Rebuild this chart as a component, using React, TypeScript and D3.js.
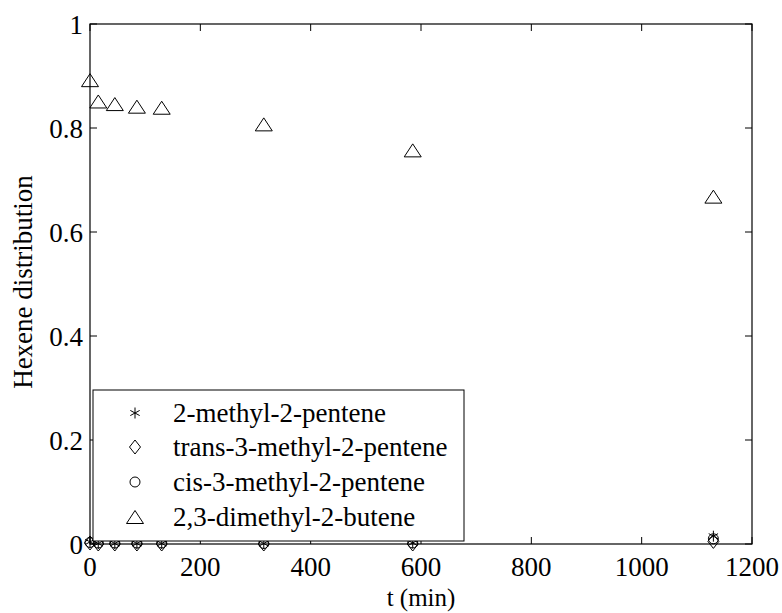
import React from "react";
import * as d3 from "d3";

const times = [0, 15, 45, 85, 130, 315, 585, 1130];
const methylPentene = [0.004, 0.001, 0.001, 0.001, 0.001, 0.001, 0.002, 0.015];
const trans3Methyl = [0.002, 0.0, 0.0, 0.0, 0.0, 0.0, 0.0, 0.005];
const cis3Methyl = [0.003, 0.002, 0.002, 0.002, 0.002, 0.001, 0.002, 0.01];
const dimethylButene = [0.892, 0.851, 0.846, 0.841, 0.839, 0.807, 0.757, 0.668];
const xTicks = [0, 200, 400, 600, 800, 1000, 1200];
const yTicks = [0, 0.2, 0.4, 0.6, 0.8, 1];
const yTickLabels = ["0", "0.2", "0.4", "0.6", "0.8", "1"];
const legendLabels = [
  "2-methyl-2-pentene",
  "trans-3-methyl-2-pentene",
  "cis-3-methyl-2-pentene",
  "2,3-dimethyl-2-butene",
];

const W = 782, H = 613;
const L = 90, R = 752, T = 24, B = 544;
const FONT = "Liberation Serif, Times New Roman, DejaVu Serif, serif";

function Marker({ type, x, y, s = 1 }: { type: string; x: number; y: number; s?: number }) {
  const st = { fill: "none", stroke: "#000", strokeWidth: 1 };
  if (type === "star") {
    const r = 5.5 * s;
    const d = r * 0.85;
    return (
      <g {...st}>
        <line x1={x} y1={y - r} x2={x} y2={y + r} />
        <line x1={x - d} y1={y - d * 0.55} x2={x + d} y2={y + d * 0.55} />
        <line x1={x - d} y1={y + d * 0.55} x2={x + d} y2={y - d * 0.55} />
      </g>
    );
  }
  if (type === "diamond") {
    const h = 7 * s, w = 5.5 * s;
    return <path {...st} d={`M${x},${y - h}L${x + w},${y}L${x},${y + h}L${x - w},${y}Z`} />;
  }
  if (type === "circle") {
    return <circle {...st} cx={x} cy={y} r={5 * s} />;
  }
  const w = 8.5 * s, h = 6.5 * s;
  return <path {...st} d={`M${x},${y - h}L${x + w},${y + h}L${x - w},${y + h}Z`} />;
}

export default function App() {
  const x = d3.scaleLinear().domain([0, 1200]).range([L, R]);
  const y = d3.scaleLinear().domain([0, 1]).range([B, T]);
  const series = [
    { type: "star", vals: methylPentene },
    { type: "diamond", vals: trans3Methyl },
    { type: "circle", vals: cis3Methyl },
    { type: "triangle", vals: dimethylButene },
  ];
  const lgX = 93, lgY = 390, lgW = 371, lgH = 151;
  const rowY = [413, 447, 482, 517];
  return (
    <svg width={W} height={H} style={{ position: "absolute", left: 0, top: 0, background: "#fff", fontFamily: FONT }}>
      <rect x={0} y={0} width={W} height={H} fill="#fff" />
      {series.map((s, si) =>
        s.vals.map((v, i) => (
          <Marker key={si + "-" + i} type={s.type} x={x(times[i])} y={y(v)} />
        ))
      )}
      <rect x={L} y={T} width={R - L} height={B - T} fill="none" stroke="#000" strokeWidth={1.2} />
      {xTicks.map((t) => (
        <g key={"x" + t}>
          <line x1={x(t)} x2={x(t)} y1={B} y2={B - 7} stroke="#000" />
          <line x1={x(t)} x2={x(t)} y1={T} y2={T + 7} stroke="#000" />
          <text x={x(t)} y={B + 32} textAnchor="middle" fontSize={27}>{t}</text>
        </g>
      ))}
      {yTicks.map((t, i) => (
        <g key={"y" + t}>
          <line x1={L} x2={L + 7} y1={y(t)} y2={y(t)} stroke="#000" />
          <line x1={R} x2={R - 7} y1={y(t)} y2={y(t)} stroke="#000" />
          <text x={L - 7} y={y(t) + 10} textAnchor="end" fontSize={27}>{yTickLabels[i]}</text>
        </g>
      ))}
      <rect x={lgX} y={lgY} width={lgW} height={lgH} fill="#fff" stroke="#000" strokeWidth={1} />
      {legendLabels.map((lab, i) => (
        <g key={lab}>
          <Marker type={series[i].type} x={135} y={rowY[i]} />
          <text x={173} y={rowY[i] + 9} fontSize={27}>{lab}</text>
        </g>
      ))}
      <text x={L + (R - L) / 2} y={606} textAnchor="middle" fontSize={25}>t (min)</text>
      <text transform={`translate(32,${(T + B) / 2 - 2}) rotate(-90)`} textAnchor="middle" fontSize={27}>Hexene distribution</text>
    </svg>
  );
}
